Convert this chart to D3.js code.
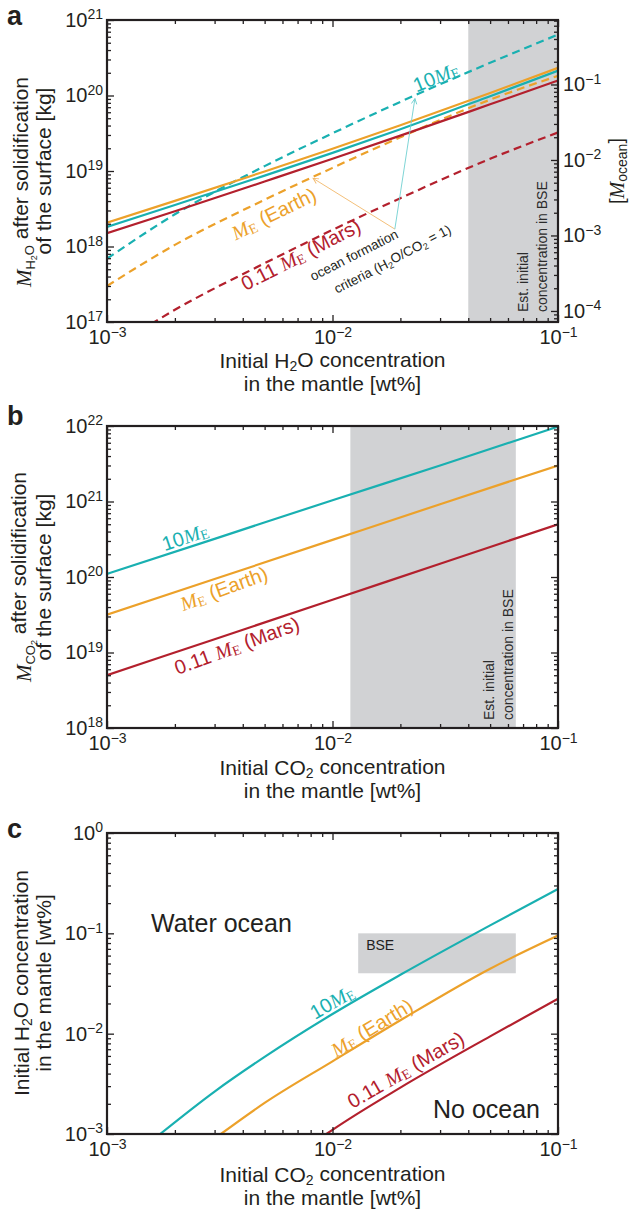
<!DOCTYPE html>
<html>
<head>
<meta charset="utf-8">
<script src="https://cdn.jsdelivr.net/npm/d3@7"></script>
<style>
  body { margin: 0; background: #fff; }
  svg text { font-family: "Liberation Sans", Arial, sans-serif; fill: #231f20; }
</style>
</head>
<body>
<div id="root"></div>
<script>
// ---------------- data ----------------
const h2oConc = [1e-3, 2e-3, 5e-3, 1e-2, 2e-2, 5e-2, 1e-1];           // wt%
const mH2O10Me = [1.82e18, 3.54e18, 8.69e18, 1.74e19, 3.57e19, 9.8e19, 2.13e20];
const mH2OEarth = [2.07e18, 4.02e18, 9.86e18, 1.97e19, 4.03e19, 1.08e20, 2.32e20];
const mH2OMars = [1.5e18, 2.93e18, 7.26e18, 1.45e19, 2.94e19, 7.64e19, 1.58e20];
const critH2O10Me = [6.9e17, 2.67e18, 1.16e19, 3.16e19, 8.24e19, 2.71e20, 6.4e20];
const critH2OEarth = [3.0e17, 1.05e18, 4.16e18, 1.1e19, 2.8e19, 8.8e19, 1.82e20];
const critH2OMars = [4.0e16, 1.45e17, 6.0e17, 1.66e18, 4.37e18, 1.45e19, 3.24e19];

const co2Conc = [1e-3, 3e-3, 1e-2, 3e-2, 1e-1];                        // wt%
const mCO210Me = [1.1e20, 3.2e20, 1.04e21, 3.0e21, 9.8e21];
const mCO2Earth = [3.16e19, 9.4e19, 3.1e20, 9.2e20, 3.0e21];
const mCO2Mars = [5.0e18, 1.5e19, 5.0e19, 1.5e20, 5.0e20];

const critCO210Me = [1.72e-3, 3e-3, 5e-3, 1e-2, 2e-2, 5e-2, 1e-1];
const critH2OAt10Me = [1e-3, 2.65e-3, 5.87e-3, 0.0157, 0.0386, 0.12, 0.277];
const critCO2Earth = [3.2e-3, 5e-3, 1e-2, 2e-2, 5e-2, 1e-1];
const critH2OAtEarth = [1e-3, 2.04e-3, 5.3e-3, 0.0136, 0.0444, 0.095];
const critCO2Mars = [9.4e-3, 1e-2, 2e-2, 5e-2, 1e-1];
const critH2OAtMars = [1e-3, 1.1e-3, 2.9e-3, 9.4e-3, 0.0223];

const bseH2OBand = [0.04, 0.1];      // panel a shading
const bseCO2Band = [0.012, 0.065];   // panel b shading
const bseBoxCO2 = [0.013, 0.065];    // panel c box
const bseBoxH2O = [0.04, 0.1];
const oceanMass = 1.4e21;            // kg, for the right axis of a

// annotation arrows in a: [conc, kg]
const arrowFrom = [0.0189, 1.7e18];
const arrowToEarth = [0.0082, 8.0e18];
const arrowTo10Me = [0.0232, 9.1e19];

const xDomain = [1e-3, 1e-1];
const yDomainA = [1e17, 1e21];
const yDomainB = [1e18, 1e22];
const yDomainC = [1e-3, 1];

// ---------------- layout ----------------
const W = 632, H = 1209;
const left = 107, right = 558;
const cyan = '#19b0b1', orange = '#eca12a', red = '#b3202d', grey = '#d1d2d4';
const ink = '#231f20';

const svg = d3.select('#root').append('svg')
  .attr('width', W).attr('height', H);

function decades(dom) {
  const out = [];
  for (let e = Math.ceil(Math.log10(dom[0]) - 1e-9); e <= Math.floor(Math.log10(dom[1]) + 1e-9); e++) out.push(Math.pow(10, e));
  return out;
}
function minors(dom) {
  const out = [];
  for (let e = Math.floor(Math.log10(dom[0]) + 1e-9); e < Math.ceil(Math.log10(dom[1]) - 1e-9); e++) {
    for (let m = 2; m < 10; m++) {
      const v = m * Math.pow(10, e);
      if (v >= dom[0] * 0.999 && v <= dom[1] * 1.001) out.push(v);
    }
  }
  return out;
}

function supLabels(g) {
  g.selectAll('.tick text').each(function (d) {
    const e = Math.round(Math.log10(d));
    const t = d3.select(this).text(null);
    t.append('tspan').text('10');
    t.append('tspan').attr('dy', '-0.55em').attr('font-size', '14px')
      .text(e < 0 ? '\u2212' + (-e) : String(e));
  });
}

function panel(id, top, bottom, yDom) {
  const x = d3.scaleLog().domain(xDomain).range([left, right]);
  const y = d3.scaleLog().domain(yDom).range([bottom, top]);
  const g = svg.append('g');
  svg.append('clipPath').attr('id', 'clip' + id)
    .append('rect').attr('x', left).attr('y', top).attr('width', right - left).attr('height', bottom - top);
  const plot = g.append('g').attr('clip-path', `url(#clip${id})`);
  return { id, x, y, g, plot, top, bottom };
}

function axisGroup(p, axis, tx, ty, labels) {
  const a = p.g.append('g').attr('transform', `translate(${tx},${ty})`).call(axis);
  a.select('.domain').remove();
  a.selectAll('line').attr('stroke', ink).attr('stroke-width', 1.3);
  a.attr('font-size', 20);
  if (labels) a.call(supLabels);
  return a;
}

function frame(p, rightAxis) {
  const { x, y } = p;
  const xd = x.domain(), yd = y.domain();
  // bottom
  axisGroup(p, d3.axisBottom(x).tickValues(decades(xd)).tickSize(-7).tickPadding(8), 0, p.bottom, true);
  axisGroup(p, d3.axisBottom(x).tickValues(minors(xd)).tickSize(-4).tickFormat(''), 0, p.bottom, false);
  // top
  axisGroup(p, d3.axisTop(x).tickValues(decades(xd)).tickSize(-7).tickFormat(''), 0, p.top, false);
  axisGroup(p, d3.axisTop(x).tickValues(minors(xd)).tickSize(-4).tickFormat(''), 0, p.top, false);
  // left
  axisGroup(p, d3.axisLeft(y).tickValues(decades(yd)).tickSize(-7).tickPadding(4), left, 0, true);
  axisGroup(p, d3.axisLeft(y).tickValues(minors(yd)).tickSize(-4).tickFormat(''), left, 0, false);
  // right
  const yr = rightAxis || y;
  const rd = yr.domain();
  axisGroup(p, d3.axisRight(yr).tickValues(decades(rd)).tickSize(-7).tickPadding(5).tickFormat(rightAxis ? null : ''), right, 0, !!rightAxis);
  axisGroup(p, d3.axisRight(yr).tickValues(minors(rd)).tickSize(-4).tickFormat(''), right, 0, false);

  p.g.append('rect')
    .attr('x', left).attr('y', p.top)
    .attr('width', right - left).attr('height', p.bottom - p.top)
    .attr('fill', 'none').attr('stroke', ink).attr('stroke-width', 2.2);
}

function drawLine(p, xs, ys, color, dashed) {
  const line = d3.line()
    .x((d) => p.x(d[0]))
    .y((d) => p.y(d[1]))
    .curve(d3.curveMonotoneX);
  p.plot.append('path')
    .datum(xs.map((v, i) => [v, ys[i]]))
    .attr('d', line)
    .attr('fill', 'none')
    .attr('stroke', color)
    .attr('stroke-width', 2.2)
    .attr('stroke-dasharray', dashed ? '8,5' : null);
}

// curve label with italic M and subscript E
function meLabel(g, cx, cy, angle, color, pre, post, size) {
  const t = g.append('text')
    .attr('transform', `translate(${cx},${cy}) rotate(${-angle})`)
    .attr('text-anchor', 'middle')
    .attr('dy', '0.35em')
    .attr('font-size', size)
    .style('fill', color);
  if (pre) t.append('tspan').text(pre);
  t.append('tspan').style('font-family', '"Liberation Serif", serif').attr('font-style', 'italic').text('M');
  t.append('tspan').style('font-family', '"Liberation Serif", serif').attr('font-size', size * 0.7).attr('dy', '0.12em').text('E');
  if (post) t.append('tspan').attr('dy', '-0.12em').text(post);
  return t;
}

function xTitle(g, cy, mol) {
  const t = g.append('text').attr('x', (left + right) / 2).attr('y', cy).attr('text-anchor', 'middle').attr('font-size', 21);
  t.append('tspan').text('Initial ' + mol[0]);
  t.append('tspan').attr('font-size', 14).attr('dy', '0.2em').text('2');
  t.append('tspan').attr('dy', '-0.2em').text(mol[1] + ' concentration');
  g.append('text').attr('x', (left + right) / 2).attr('y', cy + 23).attr('text-anchor', 'middle').attr('font-size', 21)
    .text('in the mantle [wt%]');
}

function letter(txt, y) {
  svg.append('text').attr('x', 7).attr('y', y).attr('font-size', 27).attr('font-weight', 'bold').text(txt);
}

function bandText(g, xb, yb) {
  g.append('text').attr('transform', `translate(${xb},${yb}) rotate(-90)`).attr('font-size', 14).style('fill', '#2b2b2b')
    .text('Est. initial');
  g.append('text').attr('transform', `translate(${xb + 19},${yb}) rotate(-90)`).attr('font-size', 14).style('fill', '#2b2b2b')
    .text('concentration in BSE');
}

// =============== panel a ===============
const pa = panel('a', 20, 322, yDomainA);
pa.plot.append('rect')
  .attr('x', pa.x(bseH2OBand[0])).attr('y', pa.top)
  .attr('width', pa.x(bseH2OBand[1]) - pa.x(bseH2OBand[0])).attr('height', pa.bottom - pa.top)
  .attr('fill', grey);
bandText(pa.g, 528, 312);

drawLine(pa, h2oConc, critH2OMars, red, true);
drawLine(pa, h2oConc, critH2OEarth, orange, true);
drawLine(pa, h2oConc, critH2O10Me, cyan, true);
drawLine(pa, h2oConc, mH2OMars, red, false);
drawLine(pa, h2oConc, mH2O10Me, cyan, false);
drawLine(pa, h2oConc, mH2OEarth, orange, false);

// annotation arrows
const defs = svg.append('defs');
[['arrO', '#f2b86a'], ['arrC', '#6fcfd0']].forEach(([id, c]) => {
  defs.append('marker').attr('id', id).attr('viewBox', '0 0 8 8').attr('refX', 7).attr('refY', 4)
    .attr('markerWidth', 8).attr('markerHeight', 8).attr('orient', 'auto')
    .append('path').attr('d', 'M1,1 L7,4 L1,7').attr('fill', 'none').attr('stroke', c).attr('stroke-width', 1);
});
pa.g.append('line')
  .attr('x1', pa.x(arrowFrom[0])).attr('y1', pa.y(arrowFrom[1]))
  .attr('x2', pa.x(arrowToEarth[0])).attr('y2', pa.y(arrowToEarth[1]))
  .attr('stroke', '#f2b86a').attr('stroke-width', 0.9).attr('marker-end', 'url(#arrO)');
pa.g.append('line')
  .attr('x1', pa.x(arrowFrom[0])).attr('y1', pa.y(arrowFrom[1]))
  .attr('x2', pa.x(arrowTo10Me[0])).attr('y2', pa.y(arrowTo10Me[1]))
  .attr('stroke', '#6fcfd0').attr('stroke-width', 0.9).attr('marker-end', 'url(#arrC)');

meLabel(pa.g, 436, 77, 22, cyan, '10', null, 20);
meLabel(pa.g, 274, 214, 26, orange, null, ' (Earth)', 20);
meLabel(pa.g, 301, 255, 27, red, '0.11 ', ' (Mars)', 20);

pa.g.append('text').attr('transform', 'translate(354,255) rotate(-27)')
  .attr('text-anchor', 'middle').attr('dy', '0.35em').attr('font-size', 13.5).text('ocean formation');
const oc2 = pa.g.append('text').attr('transform', 'translate(393,260) rotate(-27)')
  .attr('text-anchor', 'middle').attr('dy', '0.35em').attr('font-size', 13.5);
oc2.append('tspan').text('criteria (H');
oc2.append('tspan').attr('font-size', 9).attr('dy', '0.25em').text('2');
oc2.append('tspan').attr('dy', '-0.25em').text('O/CO');
oc2.append('tspan').attr('font-size', 9).attr('dy', '0.25em').text('2');
oc2.append('tspan').attr('dy', '-0.25em').text(' = 1)');

const yMocean = d3.scaleLog()
  .domain([yDomainA[0] / oceanMass, yDomainA[1] / oceanMass])
  .range([pa.bottom, pa.top]);
frame(pa, yMocean);
xTitle(pa.g, 368, ['H', 'O']);

// y titles a
const ta1 = pa.g.append('text').attr('transform', 'translate(31,182) rotate(-90)').attr('text-anchor', 'middle').attr('font-size', 21);
ta1.append('tspan').style('font-family', '"Liberation Serif", serif').attr('font-style', 'italic').text('M');
ta1.append('tspan').attr('font-size', 13).attr('dy', '0.3em').text('H');
ta1.append('tspan').attr('font-size', 9).attr('dy', '0.2em').text('2');
ta1.append('tspan').attr('font-size', 13).attr('dy', '-0.2em').text('O');
ta1.append('tspan').attr('dy', '-0.3em').text(' after solidification');
pa.g.append('text').attr('transform', 'translate(51,171) rotate(-90)').attr('text-anchor', 'middle').attr('font-size', 21)
  .text('of the surface [kg]');
const ta2 = pa.g.append('text').attr('transform', 'translate(624,171) rotate(-90)').attr('text-anchor', 'middle').attr('font-size', 20);
ta2.append('tspan').text('[');
ta2.append('tspan').style('font-family', '"Liberation Serif", serif').attr('font-style', 'italic').text('M');
ta2.append('tspan').attr('font-size', 14).attr('dy', '0.2em').text('ocean');
ta2.append('tspan').attr('dy', '-0.2em').text(']');
letter('a', 25);

// =============== panel b ===============
const pb = panel('b', 426, 728, yDomainB);
pb.plot.append('rect')
  .attr('x', pb.x(bseCO2Band[0])).attr('y', pb.top)
  .attr('width', pb.x(bseCO2Band[1]) - pb.x(bseCO2Band[0])).attr('height', pb.bottom - pb.top)
  .attr('fill', grey);
bandText(pb.g, 494, 720);

drawLine(pb, co2Conc, mCO210Me, cyan, false);
drawLine(pb, co2Conc, mCO2Earth, orange, false);
drawLine(pb, co2Conc, mCO2Mars, red, false);

meLabel(pb.g, 185, 537, 19, cyan, '10', null, 20);
meLabel(pb.g, 224, 589, 20, orange, null, ' (Earth)', 20);
meLabel(pb.g, 237, 646, 20, red, '0.11 ', ' (Mars)', 20);

frame(pb, null);
xTitle(pb.g, 775, ['CO', '']);

const tb1 = pb.g.append('text').attr('transform', 'translate(31,577) rotate(-90)').attr('text-anchor', 'middle').attr('font-size', 21);
tb1.append('tspan').style('font-family', '"Liberation Serif", serif').attr('font-style', 'italic').text('M');
tb1.append('tspan').attr('font-size', 13).attr('dy', '0.3em').text('CO');
tb1.append('tspan').attr('font-size', 9).attr('dy', '0.2em').text('2');
tb1.append('tspan').attr('dy', '-0.5em').text(' after solidification');
pb.g.append('text').attr('transform', 'translate(51,577) rotate(-90)').attr('text-anchor', 'middle').attr('font-size', 21)
  .text('of the surface [kg]');
letter('b', 425);

// =============== panel c ===============
const pc = panel('c', 833, 1134, yDomainC);
pc.plot.append('rect')
  .attr('x', pc.x(bseBoxCO2[0])).attr('y', pc.y(bseBoxH2O[1]))
  .attr('width', pc.x(bseBoxCO2[1]) - pc.x(bseBoxCO2[0]))
  .attr('height', pc.y(bseBoxH2O[0]) - pc.y(bseBoxH2O[1]))
  .attr('fill', grey);
pc.g.append('text').attr('x', pc.x(bseBoxCO2[0]) + 8).attr('y', pc.y(bseBoxH2O[1]) + 17).attr('font-size', 14).text('BSE');

drawLine(pc, critCO210Me, critH2OAt10Me, cyan, false);
drawLine(pc, critCO2Earth, critH2OAtEarth, orange, false);
drawLine(pc, critCO2Mars, critH2OAtMars, red, false);

meLabel(pc.g, 332, 1002, 30, cyan, '10', null, 20);
meLabel(pc.g, 372, 1028, 31, orange, null, ' (Earth)', 20);
meLabel(pc.g, 406, 1070, 30, red, '0.11 ', ' (Mars)', 20);

pc.g.append('text').attr('x', 151).attr('y', 932).attr('font-size', 25).text('Water ocean');
pc.g.append('text').attr('x', 433).attr('y', 1118).attr('font-size', 25).text('No ocean');

frame(pc, null);
xTitle(pc.g, 1182, ['CO', '']);

const tc1 = pc.g.append('text').attr('transform', 'translate(29,983) rotate(-90)').attr('text-anchor', 'middle').attr('font-size', 21);
tc1.append('tspan').text('Initial H');
tc1.append('tspan').attr('font-size', 14).attr('dy', '0.2em').text('2');
tc1.append('tspan').attr('dy', '-0.2em').text('O concentration');
pc.g.append('text').attr('transform', 'translate(51,983) rotate(-90)').attr('text-anchor', 'middle').attr('font-size', 21)
  .text('in the mantle [wt%]');
letter('c', 838);
</script>
</body>
</html>
